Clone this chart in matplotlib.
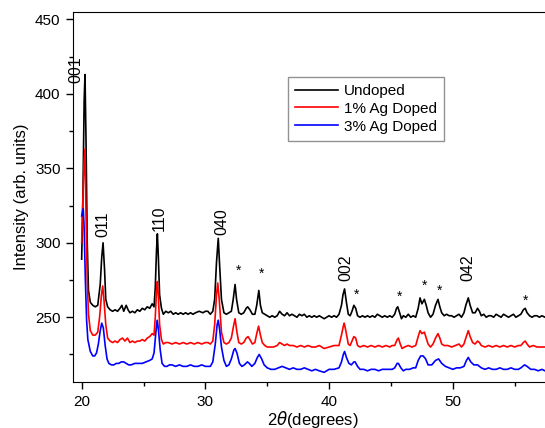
import numpy as np
import matplotlib
matplotlib.use("Agg")
import matplotlib.pyplot as plt
from matplotlib.ticker import MultipleLocator

plt.rcParams["font.family"] = ["Liberation Sans", "DejaVu Sans"]

# ---- XRD patterns (2theta in degrees, intensity in arb. units) ----
tt_undoped = [
    20.0, 20.1, 20.2, 20.27, 20.35, 20.45, 20.55, 20.7, 20.9, 21.1, 21.3, 21.5, 21.62, 21.73,
    21.85, 21.95, 22.1, 22.3, 22.5, 22.7, 22.9, 23.1, 23.25, 23.4, 23.6, 23.75, 23.9, 24.1,
    24.3, 24.5, 24.7, 24.9, 25.1, 25.3, 25.5, 25.7, 25.85, 25.95, 26.05, 26.12, 26.2, 26.3,
    26.45, 26.6, 26.8, 27.0, 27.2, 27.4, 27.6, 27.8, 28.0, 28.2, 28.4, 28.6, 28.8, 29.0,
    29.2, 29.5, 29.8, 30.0, 30.2, 30.4, 30.6, 30.75, 30.9, 31.04, 31.15, 31.3, 31.5, 31.7,
    31.9, 32.1, 32.25, 32.4, 32.52, 32.7, 32.9, 33.1, 33.3, 33.42, 33.6, 33.8, 34.0, 34.15,
    34.32, 34.45, 34.6, 34.8, 35.0, 35.2, 35.4, 35.6, 35.8, 36.0, 36.2, 36.4, 36.6, 36.8,
    37.0, 37.2, 37.4, 37.6, 37.8, 38.0, 38.2, 38.4, 38.6, 38.8, 39.0, 39.2, 39.4, 39.6,
    39.8, 40.0, 40.2, 40.4, 40.6, 40.8, 41.0, 41.12, 41.25, 41.4, 41.55, 41.7, 41.85, 42.0,
    42.15, 42.3, 42.5, 42.7, 42.9, 43.1, 43.3, 43.5, 43.7, 43.9, 44.1, 44.3, 44.5, 44.7,
    44.9, 45.1, 45.3, 45.45, 45.55, 45.7, 45.85, 46.0, 46.2, 46.4, 46.6, 46.8, 47.0, 47.2,
    47.35, 47.5, 47.7, 47.85, 48.0, 48.2, 48.4, 48.6, 48.8, 48.95, 49.1, 49.3, 49.5, 49.7,
    49.9, 50.1, 50.3, 50.5, 50.7, 50.9, 51.05, 51.25, 51.4, 51.6, 51.8, 52.0, 52.15, 52.3,
    52.5, 52.7, 52.9, 53.1, 53.3, 53.5, 53.7, 53.9, 54.1, 54.3, 54.5, 54.7, 54.9, 55.1,
    55.3, 55.5, 55.7, 55.85, 56.0, 56.2, 56.4, 56.6, 56.8, 57.0, 57.2, 57.45,
]
int_undoped = [
    289, 330, 395, 413, 370, 300, 268, 260, 258, 257, 258, 272, 290, 300,
    282, 262, 257, 255, 254, 255, 254, 256, 258, 254, 258, 255, 253, 254,
    253, 255, 254, 256, 255, 257, 256, 259, 257, 270, 295, 306, 290, 265,
    256, 252, 254, 253, 254, 252, 253, 252, 253, 252, 253, 252, 253, 252,
    253, 254, 253, 254, 254, 252, 254, 262, 287, 303, 285, 262, 253, 252,
    253, 254, 262, 272, 262, 253, 252, 253, 256, 257, 255, 252, 252, 258,
    268, 258, 253, 252, 251, 250, 251, 250, 251, 254, 252, 251, 253, 251,
    252, 251, 250, 252, 251, 252, 250, 251, 250, 251, 250, 251, 250, 249,
    250, 251, 250, 251, 250, 252, 258, 265, 269, 260, 252, 251, 254, 258,
    256, 251, 250, 251, 250, 251, 250, 251, 250, 252, 251, 250, 251, 250,
    251, 250, 252, 256, 257, 253, 249, 251, 250, 252, 250, 251, 250, 256,
    263, 259, 262, 258, 253, 250, 252, 258, 262, 257, 253, 251, 252, 251,
    251, 250, 251, 252, 250, 253, 258, 263, 258, 253, 253, 256, 254, 251,
    252, 250, 251, 251, 250, 252, 251, 250, 252, 251, 250, 251, 252, 250,
    251, 252, 255, 256, 253, 251, 250, 251, 251, 250, 251, 250,
]

tt_ag1 = [
    20.0, 20.1, 20.2, 20.27, 20.35, 20.45, 20.55, 20.7, 20.9, 21.1, 21.3, 21.45, 21.6, 21.7,
    21.8, 21.95, 22.1, 22.3, 22.5, 22.7, 22.9, 23.1, 23.3, 23.5, 23.7, 23.9, 24.1, 24.3,
    24.5, 24.7, 24.9, 25.1, 25.3, 25.5, 25.7, 25.85, 25.95, 26.05, 26.12, 26.2, 26.3, 26.45,
    26.6, 26.8, 27.0, 27.3, 27.6, 27.9, 28.2, 28.5, 28.8, 29.1, 29.4, 29.7, 30.0, 30.2,
    30.4, 30.6, 30.75, 30.9, 31.0, 31.12, 31.3, 31.5, 31.7, 31.9, 32.1, 32.25, 32.4, 32.55,
    32.7, 32.9, 33.1, 33.3, 33.45, 33.6, 33.8, 34.0, 34.15, 34.3, 34.45, 34.6, 34.8, 35.0,
    35.2, 35.5, 35.8, 36.0, 36.2, 36.4, 36.6, 36.8, 37.1, 37.4, 37.7, 38.0, 38.3, 38.6,
    38.9, 39.2, 39.6, 40.0, 40.4, 40.8, 41.0, 41.15, 41.22, 41.35, 41.55, 41.7, 41.85, 42.0,
    42.15, 42.3, 42.5, 42.8, 43.1, 43.4, 43.7, 44.0, 44.3, 44.6, 44.9, 45.1, 45.3, 45.5,
    45.6, 45.75, 45.9, 46.1, 46.4, 46.7, 47.0, 47.2, 47.35, 47.5, 47.7, 47.85, 48.0, 48.2,
    48.4, 48.6, 48.8, 48.95, 49.1, 49.3, 49.6, 49.9, 50.2, 50.5, 50.7, 50.9, 51.05, 51.25,
    51.4, 51.6, 51.8, 52.0, 52.15, 52.3, 52.6, 52.9, 53.2, 53.5, 53.8, 54.1, 54.4, 54.7,
    55.0, 55.3, 55.5, 55.7, 55.85, 56.0, 56.2, 56.5, 56.8, 57.1, 57.45,
]
int_ag1 = [
    300, 330, 355, 363, 320, 275, 252, 241, 238, 238, 240, 250, 265, 271,
    262, 245, 236, 234, 233, 234, 233, 235, 236, 234, 236, 233, 234, 233,
    234, 234, 235, 234, 236, 237, 239, 238, 250, 268, 274, 264, 245, 235,
    232, 233, 233, 232, 233, 232, 233, 232, 233, 232, 233, 232, 233, 233,
    232, 234, 245, 265, 273, 262, 240, 233, 232, 233, 236, 243, 249, 240,
    233, 232, 233, 236, 237, 235, 232, 233, 239, 244, 238, 233, 231, 230,
    230, 230, 231, 233, 232, 231, 232, 231, 231, 230, 231, 230, 231, 230,
    230, 231, 229, 230, 231, 231, 238, 244, 246, 241, 232, 231, 234, 237,
    236, 231, 230, 231, 230, 231, 230, 231, 230, 231, 230, 231, 231, 235,
    236, 232, 229, 230, 231, 230, 231, 237, 241, 239, 240, 236, 232, 230,
    232, 236, 239, 236, 232, 231, 231, 230, 231, 232, 230, 232, 236, 241,
    237, 233, 232, 234, 233, 231, 230, 231, 230, 231, 230, 231, 230, 231,
    230, 231, 231, 233, 234, 232, 230, 231, 230, 230, 230,
]

tt_ag3 = [
    20.0, 20.13, 20.2, 20.3, 20.4, 20.5, 20.7, 20.9, 21.05, 21.2, 21.35, 21.5, 21.62, 21.75,
    21.9, 22.05, 22.2, 22.4, 22.6, 22.8, 23.0, 23.2, 23.4, 23.6, 23.8, 24.0, 24.3, 24.6,
    24.9, 25.2, 25.5, 25.7, 25.85, 26.0, 26.1, 26.2, 26.35, 26.5, 26.7, 26.9, 27.1, 27.3,
    27.6, 27.9, 28.2, 28.5, 28.8, 29.1, 29.4, 29.7, 30.0, 30.2, 30.4, 30.6, 30.8, 30.95,
    31.04, 31.15, 31.3, 31.5, 31.7, 31.9, 32.1, 32.3, 32.4, 32.55, 32.75, 32.95, 33.15, 33.4,
    33.55, 33.75, 34.0, 34.2, 34.35, 34.55, 34.75, 35.0, 35.3, 35.6, 35.9, 36.2, 36.5, 36.8,
    37.1, 37.4, 37.7, 38.0, 38.3, 38.6, 38.9, 39.2, 39.6, 40.0, 40.4, 40.8, 41.0, 41.15,
    41.25, 41.4, 41.6, 41.8, 42.0, 42.1, 42.3, 42.5, 42.8, 43.1, 43.4, 43.7, 44.0, 44.3,
    44.6, 44.9, 45.1, 45.3, 45.5, 45.6, 45.8, 46.0, 46.2, 46.5, 46.8, 47.0, 47.2, 47.4,
    47.6, 47.8, 48.0, 48.3, 48.6, 48.85, 49.1, 49.4, 49.7, 50.0, 50.3, 50.6, 50.9, 51.1,
    51.25, 51.45, 51.7, 52.0, 52.3, 52.6, 52.9, 53.2, 53.5, 53.8, 54.1, 54.4, 54.7, 55.0,
    55.3, 55.5, 55.8, 56.0, 56.3, 56.6, 56.9, 57.2, 57.45,
]
int_ag3 = [
    318, 323, 310, 275, 248, 235, 227, 224, 224, 226, 232, 241, 246, 243,
    231, 222, 219, 218, 218, 219, 219, 220, 220, 219, 218, 218, 219, 219,
    219, 220, 221, 222, 226, 240, 248, 242, 228, 219, 217, 217, 218, 218,
    217, 218, 217, 217, 218, 217, 217, 218, 217, 217, 217, 220, 232, 245,
    248, 242, 230, 221, 217, 218, 222, 228, 229, 226, 219, 217, 218, 220,
    219, 217, 219, 223, 225, 222, 218, 216, 215, 215, 216, 217, 216, 215,
    216, 215, 215, 216, 215, 214, 215, 214, 213, 215, 215, 216, 220, 225,
    227, 223, 219, 218, 220, 220, 217, 215, 215, 214, 215, 215, 214, 215,
    215, 215, 215, 216, 219, 219, 216, 214, 215, 215, 216, 216, 221, 224,
    224, 222, 218, 218, 221, 222, 219, 217, 216, 215, 216, 216, 217, 221,
    223, 220, 218, 218, 216, 215, 216, 215, 215, 216, 215, 215, 216, 215,
    215, 216, 218, 217, 215, 215, 214, 215, 214,
]

series_labels = ["Undoped", "1% Ag Doped", "3% Ag Doped"]
series_colors = ["black", "#ff0000", "#0000ff"]

# Miller-index labels (position, text anchor height)
hkl_text = ["001", "011", "110", "040", "002", "042"]
hkl_x = [19.56, 21.73, 26.25, 31.3, 41.37, 51.23]
hkl_y = [407, 304, 308, 305, 274, 274]

# Impurity-phase markers
star_x = [32.66, 34.52, 42.23, 45.73, 47.7, 48.9, 55.9]
star_y = [281, 279, 265, 264, 271, 268, 261]

# ---- figure ----
fig = plt.figure(figsize=(5.45, 4.28), dpi=100)
ax = fig.add_axes([73 / 545, 46 / 428, 478.8 / 545, 370 / 428])

for tt, inten, lab, col in zip([tt_undoped, tt_ag1, tt_ag3],
                               [int_undoped, int_ag1, int_ag3],
                               series_labels, series_colors):
    ax.plot(tt, inten, color=col, lw=1.2, label=lab)

for t, x, y in zip(hkl_text, hkl_x, hkl_y):
    ax.text(x, y, t, rotation=90, ha="center", va="bottom", fontsize=11.5)

for x, y in zip(star_x, star_y):
    ax.text(x, y, "*", ha="center", va="center", fontsize=10)

ax.set_xlim(19.3, 58.0)
ax.set_ylim(206.5, 455)
ax.xaxis.set_major_locator(MultipleLocator(10))
ax.xaxis.set_minor_locator(MultipleLocator(5))
ax.yaxis.set_major_locator(MultipleLocator(50))
ax.yaxis.set_minor_locator(MultipleLocator(25))
ax.tick_params(which="both", direction="out", labelsize=11)
ax.tick_params(which="major", length=5, width=1, pad=4)
ax.tick_params(which="minor", length=3, width=1)
ax.tick_params(top=False, right=False)

ax.set_xlabel(r"2$\theta$(degrees)", fontsize=12, labelpad=0)
ax.set_ylabel("Intensity (arb. units)", fontsize=12, labelpad=4)

leg = ax.legend(loc="upper left", bbox_to_anchor=(0.449, 0.824), fontsize=11,
                handlelength=2.8, labelspacing=0.25, fancybox=False,
                edgecolor="#777777", borderpad=0.45, handletextpad=0.4,
                borderaxespad=0)
leg.get_frame().set_linewidth(1.0)

fig.savefig("out.png", dpi=100)
